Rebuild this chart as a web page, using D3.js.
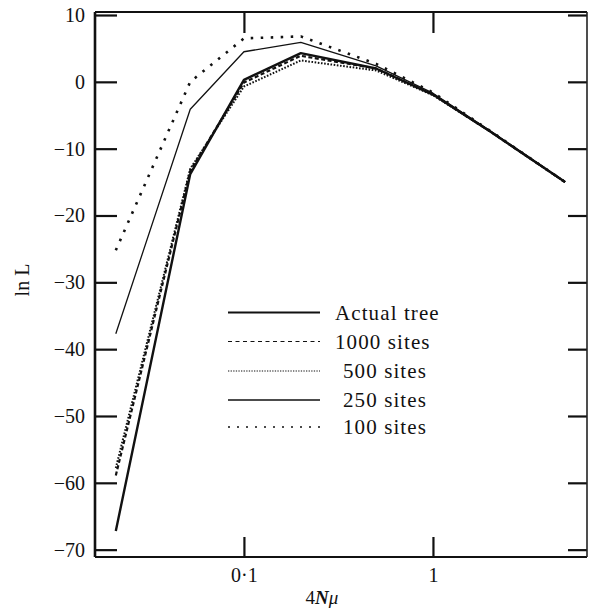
<!DOCTYPE html>
<html>
<head>
<meta charset="utf-8">
<script src="https://cdn.jsdelivr.net/npm/d3@7"></script>
<style>
  html, body { margin: 0; padding: 0; background: #fff; }
  svg { display: block; }
  text { font-family: "Liberation Serif", "Times New Roman", serif; fill: #111; }
</style>
</head>
<body>
<svg id="chart" width="589" height="609"></svg>
<script>
// ---- data ----
const xValues    = [0.021, 0.052, 0.1, 0.2, 0.5, 1, 2, 5];
const actualTree = [-67.2, -13.8, 0.3, 4.3, 2.0, -1.9, -7.4, -15.0];
const sites1000  = [-58.9, -13.3, -0.1, 3.9, 2.0, -1.9, -7.4, -15.0];
const sites500   = [-57.8, -13.0, -0.7, 3.2, 1.7, -2.0, -7.4, -15.0];
const sites250   = [-37.7, -4.1, 4.5, 5.9, 2.4, -1.7, -7.3, -15.0];
const sites100   = [-25.2, 0.0, 6.5, 6.8, 2.7, -1.6, -7.3, -15.0];

const seriesNames = ["Actual tree", "1000 sites", "500 sites", "250 sites", "100 sites"];
const yTickValues = [10, 0, -10, -20, -30, -40, -50, -60, -70];
const xTickValues = [0.1, 1];
const xTickLabels = ["0·1", "1"];
const yAxisTitle = "ln L";

// ---- layout ----
const svg = d3.select("#chart");
const frame = { left: 95, right: 587, top: 12, bottom: 557 };

const x = d3.scaleLog().domain([0.0163, 6.53]).range([frame.left, frame.right]);
const y = d3.scaleLinear().domain([-71.1, 10.45]).range([frame.bottom, frame.top]);

const styles = [
  { width: 2.4, dash: null,      lw: 1.8, ldash: null },
  { width: 2.2, dash: "4,2.5",   lw: 1.2, ldash: "4,3.5" },
  { width: 2.0, dash: "1.6,1.6", lw: 1.2, ldash: "1.3,1.3" },
  { width: 1.3, dash: null,      lw: 1.3, ldash: null },
  { width: 2.6, dash: "2.5,7.5", lw: 1.4, ldash: "2,7" }
];
const seriesValues = [actualTree, sites1000, sites500, sites250, sites100];

// ---- axes ----
function styleAxis(g) {
  g.select(".domain").remove();
  g.attr("font-family", null);
  g.selectAll(".tick line").attr("stroke", "#111").attr("stroke-width", 2.2);
  g.selectAll(".tick text").style("font-family", "'Liberation Serif', serif").attr("font-size", 20).attr("fill", "#111");
}

svg.append("g").attr("transform", `translate(${frame.left},0)`)
  .call(d3.axisLeft(y).tickValues(yTickValues).tickSize(-22).tickSizeOuter(0).tickPadding(10)
    .tickFormat(d => d < 0 ? "\u2212" + Math.abs(d) : String(d)))
  .call(styleAxis);

svg.append("g").attr("transform", `translate(${frame.right},0)`)
  .call(d3.axisRight(y).tickValues(yTickValues).tickSize(-19).tickSizeOuter(0).tickFormat(""))
  .call(styleAxis);

svg.append("g").attr("transform", `translate(0,${frame.bottom})`)
  .call(d3.axisBottom(x).tickValues(xTickValues).tickSize(-20).tickSizeOuter(0).tickPadding(11)
    .tickFormat((d, i) => xTickLabels[i]))
  .call(styleAxis);

svg.append("g").attr("transform", `translate(0,${frame.top})`)
  .call(d3.axisTop(x).tickValues(xTickValues).tickSize(-21).tickSizeOuter(0).tickFormat(""))
  .call(styleAxis);

// frame
svg.append("line").attr("x1", frame.left).attr("x2", frame.left).attr("y1", frame.top).attr("y2", frame.bottom)
  .attr("stroke", "#111").attr("stroke-width", 2.6);
svg.append("line").attr("x1", frame.left).attr("x2", frame.right).attr("y1", frame.bottom).attr("y2", frame.bottom)
  .attr("stroke", "#111").attr("stroke-width", 2.2);
svg.append("line").attr("x1", frame.left).attr("x2", frame.right).attr("y1", frame.top).attr("y2", frame.top)
  .attr("stroke", "#111").attr("stroke-width", 1.8);
svg.append("line").attr("x1", frame.right).attr("x2", frame.right).attr("y1", frame.top).attr("y2", frame.bottom)
  .attr("stroke", "#222").attr("stroke-width", 1.6);

// ---- series ----
const line = d3.line().x(d => x(d[0])).y(d => y(d[1]));
seriesValues.forEach((vals, i) => {
  const pts = xValues.map((xv, j) => [xv, vals[j]]);
  svg.append("path").datum(pts)
    .attr("d", line)
    .attr("fill", "none")
    .attr("stroke", "#111")
    .attr("stroke-width", styles[i].width)
    .attr("stroke-linejoin", "round")
    .attr("stroke-dasharray", styles[i].dash);
});

// ---- legend ----
const legendRows = [312.5, 341.5, 371, 400, 427];
const legendTextX = [335, 335, 343, 343, 343];
seriesNames.forEach((name, i) => {
  svg.append("line")
    .attr("x1", 228).attr("x2", 320)
    .attr("y1", legendRows[i]).attr("y2", legendRows[i])
    .attr("stroke", "#111")
    .attr("stroke-width", styles[i].lw)
    .attr("stroke-dasharray", styles[i].ldash);
  svg.append("text")
    .attr("x", legendTextX[i]).attr("y", legendRows[i])
    .attr("dy", "0.35em")
    .attr("font-size", 21)
    .attr("letter-spacing", "1.1px")
    .text(name);
});

// ---- axis titles ----
const xt = svg.append("text").attr("x", 322).attr("y", 604).attr("text-anchor", "middle").attr("font-size", 19);
xt.append("tspan").text("4");
xt.append("tspan").attr("font-style", "italic").attr("font-weight", "bold").text("N");
xt.append("tspan").attr("font-style", "italic").text("μ");

svg.append("text")
  .attr("transform", "translate(29,280) rotate(-90)")
  .attr("text-anchor", "middle")
  .attr("font-size", 20)
  .text(yAxisTitle);
</script>
</body>
</html>
